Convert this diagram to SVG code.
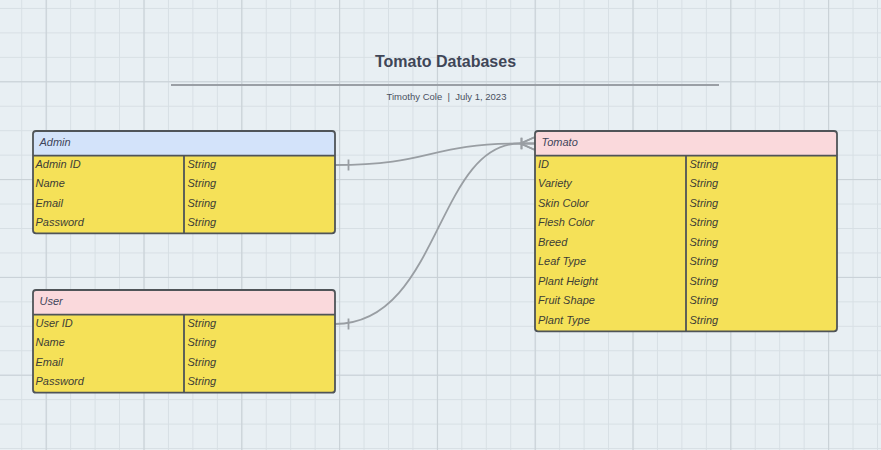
<svg xmlns="http://www.w3.org/2000/svg" width="881" height="450" viewBox="0 0 881 450">
  <defs>
    <pattern id="gridMinor" patternUnits="userSpaceOnUse" x="-3.2" y="7.95" width="24.45" height="24.45">
      <path d="M0,0.5 H24.45 M0.5,0 V24.45" fill="none" stroke="#d7dfe4" stroke-width="1"/>
    </pattern>
    <pattern id="gridMajor" patternUnits="userSpaceOnUse" x="45.7" y="81.3" width="97.8" height="97.8">
      <path d="M0,0.5 H97.8 M0.5,0 V97.8" fill="none" stroke="#c8d0d6" stroke-width="1.2"/>
    </pattern>
    <marker id="one" markerUnits="userSpaceOnUse" viewBox="0 -8 30 16" refX="0" refY="0" markerWidth="30" markerHeight="16" orient="auto" overflow="visible">
      <path d="M13.5,-5.5 V5.5" fill="none" stroke="#999ea3" stroke-width="1.8"/>
    </marker>
    <marker id="oneMany" markerUnits="userSpaceOnUse" viewBox="0 -8 16 16" refX="15" refY="0" markerWidth="16" markerHeight="16" orient="auto" overflow="visible">
      <path d="M14.5,-6.2 L0.5,0 L14.5,6.2 M1.5,-5.8 V5.8" fill="none" stroke="#999ea3" stroke-width="1.8"/>
    </marker>
  </defs>
  <style>
    .conn { fill: none; stroke: #999ea3; stroke-width: 1.8; }
    .frame { stroke: #4f5458; stroke-width: 1.8; }
    .body { fill: #f5e158; }
    .hdrBlue { fill: #d3e3fa; }
    .hdrPink { fill: #fad9dc; }
    .sep { stroke: #4f5458; stroke-width: 1.8; fill: none; }
    .hdr { font-family: "Liberation Sans", Arial, sans-serif; font-style: italic; font-size: 11px; fill: #41455a; }
    .cell { font-family: "Liberation Sans", Arial, sans-serif; font-style: italic; font-size: 11px; fill: #3d3d36; }
    .title { font-family: "Liberation Sans", Arial, sans-serif; font-weight: bold; font-size: 16px; fill: #3f4657; }
    .sub { font-family: "Liberation Sans", Arial, sans-serif; font-size: 9.5px; fill: #4a5160; white-space: pre; }
  </style>

  <rect x="0" y="0" width="881" height="450" fill="#e8eff3"/>
  <rect x="0" y="0" width="881" height="450" fill="url(#gridMinor)"/>
  <rect x="0" y="0" width="881" height="450" fill="url(#gridMajor)"/>

  <g id="title">
    <text class="title" x="445.5" y="67" text-anchor="middle">Tomato Databases</text>
    <line x1="171" y1="85" x2="719" y2="85" stroke="#9a9fa5" stroke-width="2"/>
    <text class="sub" x="446.5" y="100.3" text-anchor="middle">Timothy Cole  |  July 1, 2023</text>
  </g>

  <g id="connectors">
    <path class="conn" d="M335,165 C432,165 428,143.5 520,143.5 L535,143.5" marker-start="url(#one)" marker-end="url(#oneMany)"/>
    <path class="conn" d="M335,324 C440,324 436,143.5 520,143.5 L535,143.5" marker-start="url(#one)" marker-end="url(#oneMany)"/>
  </g>

  <g id="admin">
    <path class="body" d="M33,155.7 H335 V230.3 Q335,233.3 332,233.3 H36 Q33,233.3 33,230.3 Z"/>
    <path class="hdrBlue" d="M36,131 H332 Q335,131 335,134 V155.7 H33 V134 Q33,131 36,131 Z"/>
    <rect class="frame" x="33" y="131" width="302" height="102.3" rx="3" fill="none"/>
    <path class="sep" d="M33,155.7 H335 M184,155.7 V233.3"/>
    <text class="hdr" x="39.5" y="146.2">Admin</text>
    <text class="cell" x="35.5" y="167.8">Admin ID</text>
    <text class="cell" x="187.5" y="167.8">String</text>
    <text class="cell" x="35.5" y="187.3">Name</text>
    <text class="cell" x="187.5" y="187.3">String</text>
    <text class="cell" x="35.5" y="206.8">Email</text>
    <text class="cell" x="187.5" y="206.8">String</text>
    <text class="cell" x="35.5" y="226.3">Password</text>
    <text class="cell" x="187.5" y="226.3">String</text>
  </g>

  <g id="user">
    <path class="body" d="M33,314.7 H335 V389.7 Q335,392.7 332,392.7 H36 Q33,392.7 33,389.7 Z"/>
    <path class="hdrPink" d="M36,290 H332 Q335,290 335,293 V314.7 H33 V293 Q33,290 36,290 Z"/>
    <rect class="frame" x="33" y="290" width="302" height="102.7" rx="3" fill="none"/>
    <path class="sep" d="M33,314.7 H335 M184,314.7 V392.7"/>
    <text class="hdr" x="39.5" y="305">User</text>
    <text class="cell" x="35.5" y="326.8">User ID</text>
    <text class="cell" x="187.5" y="326.8">String</text>
    <text class="cell" x="35.5" y="346.3">Name</text>
    <text class="cell" x="187.5" y="346.3">String</text>
    <text class="cell" x="35.5" y="365.8">Email</text>
    <text class="cell" x="187.5" y="365.8">String</text>
    <text class="cell" x="35.5" y="385.3">Password</text>
    <text class="cell" x="187.5" y="385.3">String</text>
  </g>

  <g id="tomato">
    <path class="body" d="M535,155.7 H837 V328.3 Q837,331.3 834,331.3 H538 Q535,331.3 535,328.3 Z"/>
    <path class="hdrPink" d="M538,131 H834 Q837,131 837,134 V155.7 H535 V134 Q535,131 538,131 Z"/>
    <rect class="frame" x="535" y="131" width="302" height="200.3" rx="3" fill="none"/>
    <path class="sep" d="M535,155.7 H837 M686,155.7 V331.3"/>
    <text class="hdr" x="541.5" y="146.2">Tomato</text>
    <text class="cell" x="538" y="167.8">ID</text>
    <text class="cell" x="689.5" y="167.8">String</text>
    <text class="cell" x="538" y="187.3">Variety</text>
    <text class="cell" x="689.5" y="187.3">String</text>
    <text class="cell" x="538" y="206.8">Skin Color</text>
    <text class="cell" x="689.5" y="206.8">String</text>
    <text class="cell" x="538" y="226.3">Flesh Color</text>
    <text class="cell" x="689.5" y="226.3">String</text>
    <text class="cell" x="538" y="245.8">Breed</text>
    <text class="cell" x="689.5" y="245.8">String</text>
    <text class="cell" x="538" y="265.3">Leaf Type</text>
    <text class="cell" x="689.5" y="265.3">String</text>
    <text class="cell" x="538" y="284.8">Plant Height</text>
    <text class="cell" x="689.5" y="284.8">String</text>
    <text class="cell" x="538" y="304.3">Fruit Shape</text>
    <text class="cell" x="689.5" y="304.3">String</text>
    <text class="cell" x="538" y="323.8">Plant Type</text>
    <text class="cell" x="689.5" y="323.8">String</text>
  </g>
</svg>
